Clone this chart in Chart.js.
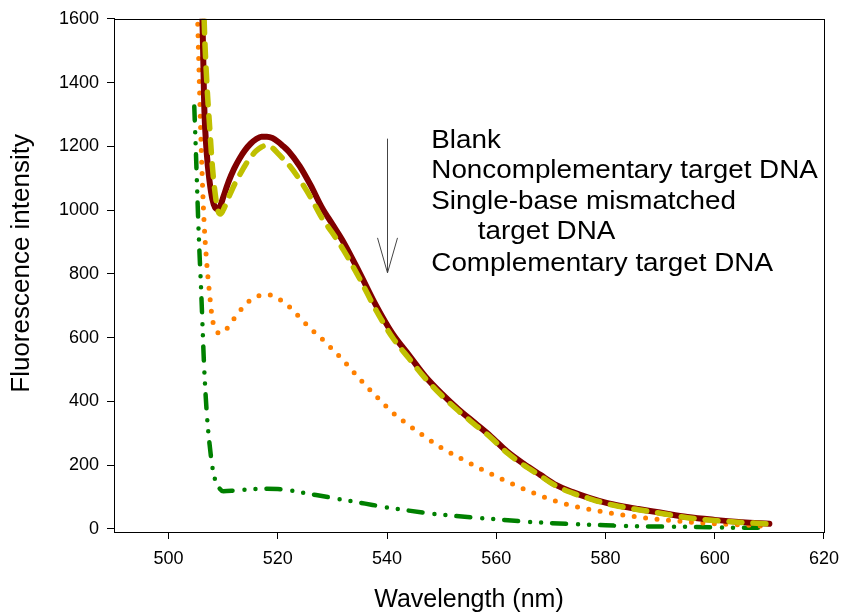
<!DOCTYPE html>
<html>
<head>
<meta charset="utf-8">
<script src="https://cdn.jsdelivr.net/npm/chart.js@4.4.1/dist/chart.umd.min.js"></script>
<style>
  html, body { margin: 0; padding: 0; background: #fff; }
  #chart { display: block; }
</style>
</head>
<body>
<canvas id="chart" width="848" height="615"></canvas>
<script>
// Fluorescence spectra, values

const blankX = [505.5, 506, 506.5, 507, 507.5, 508, 508.5, 509, 509.5, 510, 511, 512, 513, 514, 515, 516, 517, 518, 519, 520, 521, 522, 524, 526, 528, 530, 532, 535, 538, 541, 544, 547, 550, 553, 556, 559, 562, 565, 568, 571, 574, 577, 580, 583, 586, 590, 595, 600, 605, 610];
const blankY = [2250, 1780, 1340, 1175, 1090, 1035, 1008, 1003, 1015, 1040, 1090, 1130, 1162, 1188, 1208, 1222, 1230, 1230, 1226, 1215, 1200, 1184, 1138, 1078, 1010, 955, 900, 802, 700, 612, 545, 478, 424, 376, 333, 290, 242, 204, 170, 137, 115, 97, 82, 71, 62, 51, 37, 28, 21, 16];

const noncompX = [505.5, 506, 506.5, 507, 507.5, 508, 508.5, 509, 509.5, 510, 511, 512, 513, 514, 515, 516, 517, 518, 519, 520, 521, 522, 524, 526, 528, 530, 532, 535, 538, 541, 544, 547, 550, 553, 556, 559, 562, 565, 568, 571, 574, 577, 580, 583, 586, 590, 595, 600, 605, 610];
const noncompY = [2500, 2000, 1600, 1400, 1265, 1140, 1055, 1000, 988, 1000, 1040, 1078, 1110, 1140, 1165, 1185, 1198, 1203, 1195, 1178, 1160, 1142, 1095, 1040, 977, 928, 875, 784, 685, 600, 535, 472, 418, 371, 328, 286, 238, 200, 167, 134, 112, 95, 80, 69, 60, 49, 35, 26, 20, 15];

const mismatchX = [505, 505.5, 506, 506.5, 507, 507.5, 508, 508.5, 509.5, 510.5, 512, 513.5, 515, 516.5, 518, 519.5, 521, 522.5, 524, 526, 528, 530, 532, 535, 538, 541, 544, 547, 550, 554, 558, 562, 566, 570, 574, 578, 582, 586, 590, 594, 598, 602, 606, 610];
const mismatchY = [1800, 1480, 1180, 960, 830, 737, 660, 628, 613, 625, 660, 693, 718, 731, 735, 728, 712, 690, 663, 628, 597, 563, 528, 470, 416, 365, 325, 288, 254, 216, 181, 148, 118, 92, 72, 58, 46, 37, 29, 23, 18, 14, 11, 7];

const compX = [504.7, 505, 505.5, 506, 506.5, 507, 507.5, 508, 508.5, 509, 510, 512, 514, 516, 518, 520, 522, 524, 527, 530, 533, 536, 540, 544, 548, 552, 556, 560, 565, 570, 575, 580, 585, 590, 595, 600, 605, 608];
const compY = [1325, 1180, 930, 730, 510, 360, 265, 195, 155, 135, 118, 120, 123, 125, 126, 125, 121, 115, 106, 97, 88, 79, 67, 57, 48, 41, 35, 30, 23, 18, 14, 11, 8, 7, 6, 5, 3, 3];

const seriesNames = ['Blank', 'Noncomplementary target DNA', 'Single-base mismatched target DNA', 'Complementary target DNA'];

const xTicks = [500, 520, 540, 560, 580, 600, 620];
const yTicks = [0, 200, 400, 600, 800, 1000, 1200, 1400, 1600];

// annotation text as it sits in the figure (second line of item 3 is indented)
const noteLines = ['Blank', 'Noncomplementary target DNA', 'Single-base mismatched', 'target DNA', 'Complementary target DNA'];
const noteX = [548.1, 548.1, 548.1, 556.6, 548.1];
const noteY = [1194, 1100, 1004, 908, 809];

const ARROW_X = 540;
const ARROW_FROM = 1224;
const ARROW_TO = 803;

const FONT = "'Liberation Sans', Arial, sans-serif";

const toPoints = (xs, ys) => xs.map((x, i) => ({ x, y: ys[i] }));

const notesPlugin = {
  id: 'notes',
  afterDatasetsDraw(chart) {
    const { ctx, chartArea: a, scales: { x, y } } = chart;
    ctx.save();

    // box round the plot
    ctx.strokeStyle = '#000';
    ctx.lineWidth = 1;
    ctx.strokeRect(Math.round(a.left) + 0.5, Math.round(a.top) + 0.5,
      Math.round(a.right - a.left), Math.round(a.bottom - a.top));

    // downward arrow
    const ax = Math.round(x.getPixelForValue(ARROW_X)) + 0.5;
    const ay0 = y.getPixelForValue(ARROW_FROM);
    const ay1 = y.getPixelForValue(ARROW_TO);
    ctx.strokeStyle = '#444';
    ctx.beginPath();
    ctx.moveTo(ax, ay0);
    ctx.lineTo(ax, ay1);
    ctx.moveTo(ax - 10, ay1 - 35);
    ctx.lineTo(ax, ay1);
    ctx.lineTo(ax + 10, ay1 - 35);
    ctx.stroke();

    // labels
    ctx.fillStyle = '#000';
    ctx.font = '26px ' + FONT;
    ctx.textBaseline = 'alphabetic';
    ctx.textAlign = 'left';
    noteLines.forEach((t, i) => {
      const px = x.getPixelForValue(noteX[i]);
      const py = y.getPixelForValue(noteY[i]);
      ctx.save();
      ctx.translate(px, py);
      ctx.scale(1.07, 1);
      ctx.fillText(t, 0, 0);
      ctx.restore();
    });

    // y axis title, sits a little above the plot's middle in the original
    ctx.save();
    ctx.translate(22, (a.top + a.bottom) / 2 - 12);
    ctx.rotate(-Math.PI / 2);
    ctx.font = '26px ' + FONT;
    ctx.textAlign = 'center';
    ctx.textBaseline = 'middle';
    ctx.fillText('Fluorescence intensity', 0, 0);
    ctx.restore();

    ctx.restore();
  }
};

const lineStyle = {
  fill: false,
  pointRadius: 0,
  cubicInterpolationMode: 'monotone',
  borderJoinStyle: 'round',
  clip: 0,
};

new Chart(document.getElementById('chart'), {
  type: 'line',
  data: {
    datasets: [
      {
        ...lineStyle,
        label: seriesNames[1],
        data: toPoints(noncompX, noncompY),
        borderColor: '#c0c000',
        borderWidth: 5.5,
        borderCapStyle: 'round',
        borderDash: [13, 11],
        order: 0,
      },
      {
        ...lineStyle,
        label: seriesNames[0],
        data: toPoints(blankX, blankY),
        borderColor: '#800000',
        borderWidth: 6,
        borderCapStyle: 'round',
        order: 1,
      },
      {
        ...lineStyle,
        label: seriesNames[2],
        data: toPoints(mismatchX, mismatchY),
        borderColor: '#ff8000',
        borderWidth: 5,
        borderCapStyle: 'round',
        borderDash: [0, 11.5],
        order: 2,
      },
      {
        ...lineStyle,
        label: seriesNames[3],
        data: toPoints(compX, compY),
        borderColor: '#008000',
        borderWidth: 4.5,
        borderCapStyle: 'round',
        borderDash: [14, 12, 0, 11, 0, 11],
        order: 3,
      },
    ]
  },
  options: {
    responsive: false,
    devicePixelRatio: 1,
    animation: false,
    layout: { padding: { top: 17, right: 20, bottom: 0, left: 0 } },
    plugins: {
      legend: { display: false },
      tooltip: { enabled: false },
    },
    scales: {
      x: {
        type: 'linear',
        min: 490,
        max: 620,
        border: { display: true, color: '#000', width: 1 },
        grid: { drawOnChartArea: false, drawTicks: true, tickLength: 7, color: '#000' },
        afterBuildTicks(scale) { scale.ticks = xTicks.map(v => ({ value: v })); },
        ticks: {
          color: '#000',
          padding: 9,
          maxRotation: 0,
          callback: v => String(v),
          font: { family: FONT, size: 18 },
        },
        title: {
          display: true,
          text: 'Wavelength (nm)',
          color: '#000',
          padding: { top: 0, bottom: 0 },
          font: { family: FONT, size: 25 },
        },
        afterFit(scale) { scale.height = 83; }
      },
      y: {
        type: 'linear',
        min: -10,
        max: 1600,
        border: { display: true, color: '#000', width: 1 },
        grid: { drawOnChartArea: false, drawTicks: true, tickLength: 7, color: '#000' },
        afterBuildTicks(scale) { scale.ticks = yTicks.map(v => ({ value: v })); },
        ticks: {
          color: '#000',
          padding: 8,
          callback: v => String(v),
          font: { family: FONT, size: 18 },
        },
        title: { display: false },
        afterFit(scale) { scale.width = 114; }
      }
    }
  },
  plugins: [notesPlugin]
});
</script>
</body>
</html>
